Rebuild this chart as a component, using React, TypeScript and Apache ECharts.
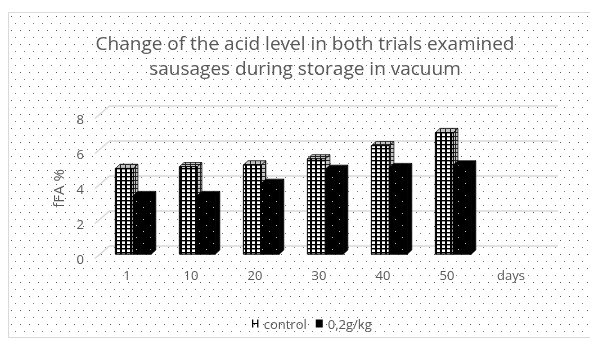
import React, { useEffect, useRef } from 'react';
import * as echarts from 'echarts';

const categories = ['1', '10', '20', '30', '40', '50', 'days'];
const controlValues = [4.9, 5.0, 5.1, 5.45, 6.2, 6.95];
const treatedValues = [3.35, 3.35, 4.05, 4.85, 4.95, 5.1];
const yTicks = [0, 2, 4, 6, 8];
const seriesNames = ['control', '0,2g/kg'];
const titleLines = ['Change of the acid level in both trials examined', 'sausages during storage in vacuum'];
const yAxisName = 'fFA %';

const TEXT = '#595959';
const GRIDC = '#d9d9d9';
const FONT = '"Open Sans", "Noto Sans", sans-serif';

function tile(w: number, h: number, draw: (ctx: CanvasRenderingContext2D) => void) {
  const c = document.createElement('canvas');
  c.width = w;
  c.height = h;
  const ctx = c.getContext('2d')!;
  draw(ctx);
  return c;
}

export default function App() {
  const ref = useRef<HTMLDivElement>(null);
  useEffect(() => {
    const chart = echarts.init(ref.current!, null, { renderer: 'svg' });

    const dots = tile(18, 14, (ctx) => {
      ctx.fillStyle = '#ffffff';
      ctx.fillRect(0, 0, 18, 14);
      ctx.fillStyle = '#555555';
      ctx.fillRect(2, 2, 1, 1);
      ctx.fillRect(11, 2, 1, 1);
      ctx.fillStyle = '#7a7a7a';
      ctx.fillRect(6, 9, 1, 1);
      ctx.fillRect(15, 9, 1, 1);
    });
    const hatch = tile(5, 4, (ctx) => {
      ctx.fillStyle = '#ffffff';
      ctx.fillRect(0, 0, 5, 4);
      ctx.fillStyle = '#000000';
      ctx.fillRect(0, 0, 2, 4);
      ctx.fillRect(0, 0, 5, 1.4);
    });
    const hatchTop = tile(5, 4, (ctx) => {
      ctx.fillStyle = '#c4c4c4';
      ctx.fillRect(0, 0, 5, 4);
      ctx.fillStyle = '#222222';
      ctx.fillRect(0, 0, 1, 4);
      ctx.fillRect(0, 0, 5, 1);
    });
    const speck = tile(14, 12, (ctx) => {
      ctx.fillStyle = '#000000';
      ctx.fillRect(0, 0, 14, 12);
      ctx.fillStyle = '#bcbcbc';
      ctx.fillRect(3, 3, 1, 1);
      ctx.fillRect(10, 9, 1, 1);
    });

    const pat = (c: HTMLCanvasElement) => ({ image: c, repeat: 'repeat' } as any);

    const makeBar = (isControl: boolean) => (params: any, api: any) => {
      const ci = api.value(0);
      const v = api.value(1);
      const b = api.coord([ci, 0]);
      const t = api.coord([ci, v]);
      const band = (api.size([1, 0]) as number[])[0];
      const bw = band * 0.28;
      const cx = b[0] + 6.3;
      const x0 = isControl ? cx - bw : cx;
      const yb = b[1] - 4.3;
      const yt = t[1] - 4.3;
      const ddx = 4.6;
      const ddy = -4.2;
      const frontFill = isControl ? pat(hatch) : pat(speck);
      const topFill = isControl ? pat(hatchTop) : '#000';
      const sideFill = isControl ? pat(hatchTop) : '#000';
      const stroke = '#000';
      return {
        type: 'group',
        children: [
          {
            type: 'polygon',
            shape: { points: [[x0 + bw, yt], [x0 + bw + ddx, yt + ddy], [x0 + bw + ddx, yb + ddy], [x0 + bw, yb]] },
            style: { fill: sideFill, stroke, lineWidth: 0.7 },
          },
          {
            type: 'polygon',
            shape: { points: [[x0, yt], [x0 + bw, yt], [x0 + bw + ddx, yt + ddy], [x0 + ddx, yt + ddy]] },
            style: { fill: topFill, stroke, lineWidth: 0.7 },
          },
          {
            type: 'rect',
            shape: { x: x0, y: yt, width: bw, height: yb - yt },
            style: { fill: frontFill, stroke, lineWidth: 1 },
          },
        ],
      };
    };

    const option: any = {
      animation: false,
      graphic: [
        {
          type: 'rect',
          z: -10,
          shape: { x: 8.5, y: 12.5, width: 600, height: 325 },
          style: { fill: pat(dots), stroke: GRIDC, lineWidth: 1 },
          silent: true,
        },
        {
          type: 'text',
          x: 305,
          y: 30,
          style: {
            text: titleLines.join('\n'),
            fill: TEXT,
            fontSize: 19,
            fontFamily: FONT,
            lineHeight: 25,
            align: 'center',
            verticalAlign: 'top',
          },
          silent: true,
        },
      ],
      legend: {
        left: 247,
        top: 312,
        itemWidth: 7,
        itemHeight: 8,
        itemGap: 9,
        textStyle: { color: TEXT, fontSize: 13, fontFamily: FONT },
        data: [
          { name: seriesNames[0], icon: 'path://M0,0H1.6V4.3H6.4V0H8V10H6.4V5.7H1.6V10H0Z', itemStyle: { color: '#000' } },
          { name: seriesNames[1], icon: 'rect', itemStyle: { color: '#000' } },
        ],
      },
      grid: [
        { left: 110, right: 32, top: 105.5, bottom: 95.5 },
        { left: 95, right: 47, top: 118.5, bottom: 82.5 },
      ],
      xAxis: [
        { type: 'category', gridIndex: 0, data: categories, show: false },
        {
          type: 'category',
          gridIndex: 1,
          data: categories,
          axisLine: { show: false },
          axisTick: { show: false },
          axisLabel: { color: TEXT, fontSize: 13, fontFamily: FONT, margin: 10 },
        },
      ],
      yAxis: [
        {
          type: 'value',
          gridIndex: 0,
          min: 0,
          max: 8,
          interval: 2,
          axisLabel: { show: false },
          axisLine: { show: false },
          axisTick: { show: false },
          splitLine: { lineStyle: { color: GRIDC, width: 1.6 } },
        },
        {
          type: 'value',
          gridIndex: 1,
          min: 0,
          max: 8,
          interval: 2,
          axisLine: { show: false },
          axisTick: { show: false },
          splitLine: { show: false },
          axisLabel: { color: TEXT, fontSize: 13, fontFamily: FONT, margin: 11 },
          name: yAxisName,
          nameLocation: 'middle',
          nameGap: 26,
          nameRotate: 90,
          nameTextStyle: { color: TEXT, fontSize: 15, fontFamily: FONT },
        },
      ],
      series: [
        {
          type: 'custom',
          name: 'diag',
          xAxisIndex: 1,
          yAxisIndex: 1,
          silent: true,
          data: yTicks.map((v) => [0, v]),
          renderItem: (params: any, api: any) => {
            const y = api.coord([0, api.value(1)])[1];
            const x = params.coordSys.x;
            return {
              type: 'line',
              shape: { x1: x, y1: y, x2: x + 15, y2: y - 13 },
              style: { stroke: GRIDC, lineWidth: 1.5 },
            };
          },
        },
        {
          type: 'custom',
          name: seriesNames[0],
          xAxisIndex: 1,
          yAxisIndex: 1,
          itemStyle: { color: '#000' },
          data: controlValues.map((v, i) => [i, v]),
          renderItem: makeBar(true),
          z: 3,
        },
        {
          type: 'custom',
          name: seriesNames[1],
          xAxisIndex: 1,
          yAxisIndex: 1,
          itemStyle: { color: '#000' },
          data: treatedValues.map((v, i) => [i, v]),
          renderItem: makeBar(false),
          z: 4,
        },
      ],
    };
    chart.setOption(option);
    return () => chart.dispose();
  }, []);
  return <div ref={ref} style={{ position: 'fixed', left: 0, top: 0, width: 590, height: 341 }} />;
}
